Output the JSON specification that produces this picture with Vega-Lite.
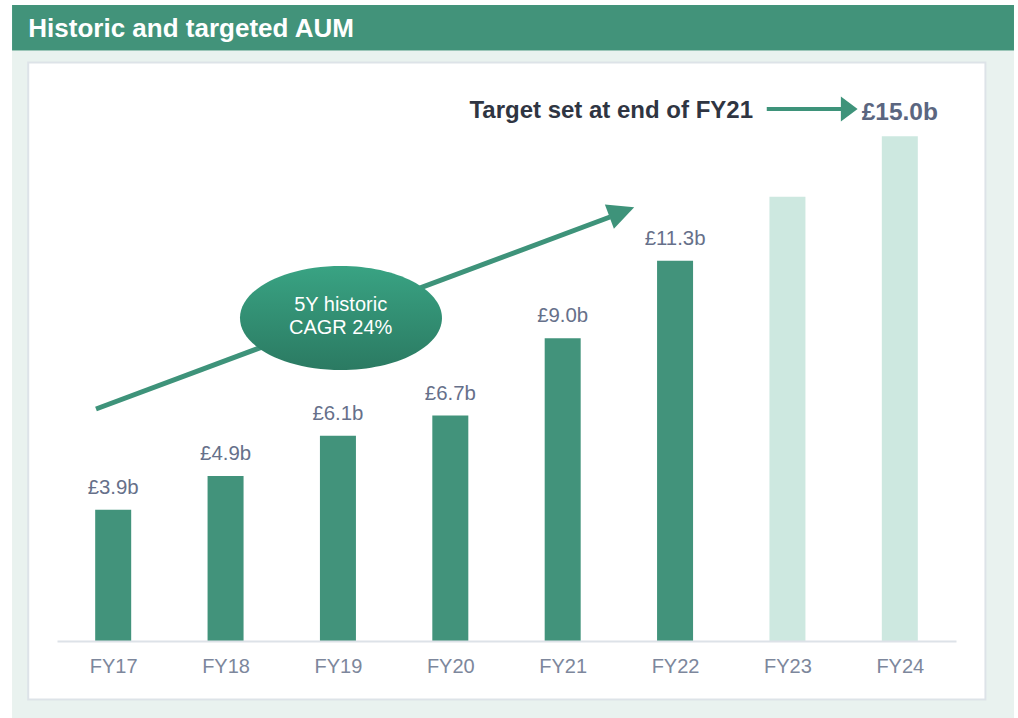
{
  "$schema": "https://vega.github.io/schema/vega-lite/v6.json",
  "width": 899,
  "height": 578,
  "autosize": {"type": "none"},
  "padding": {"left": 57, "top": 63, "right": 62, "bottom": 77},
  "background": "white",
  "config": {"view": {"stroke": null}, "font": "Liberation Sans"},
  "datasets": {
    "aum": [
      {"fy": 17, "value": 3.9, "status": "Actual", "label": "£3.9b"},
      {"fy": 18, "value": 4.9, "status": "Actual", "label": "£4.9b"},
      {"fy": 19, "value": 6.1, "status": "Actual", "label": "£6.1b"},
      {"fy": 20, "value": 6.7, "status": "Actual", "label": "£6.7b"},
      {"fy": 21, "value": 9.0, "status": "Actual", "label": "£9.0b"},
      {"fy": 22, "value": 11.3, "status": "Actual", "label": "£11.3b"},
      {"fy": 23, "value": 13.2, "status": "Target", "label": ""},
      {"fy": 24, "value": 15.0, "status": "Target", "label": "£15.0b"}
    ]
  },
  "layer": [
    {
      "data": {"values": [{"x": 16.1, "x2": 25.016, "y": 17.55, "y2": -2.4}]},
      "mark": {"type": "rect", "fill": "#e9f2ef"},
      "encoding": {
        "x": {"field": "x", "type": "quantitative", "scale": {"domain": [16.5, 24.5], "nice": false, "zero": false, "padding": 0},
              "axis": {"values": [17, 18, 19, 20, 21, 22, 23, 24], "labelExpr": "'FY' + datum.value", "grid": false, "ticks": false, "tickSize": 0,
                       "domainColor": "#dde2e8", "domainWidth": 2, "labelFontSize": 20, "labelColor": "#7d879c", "labelPadding": 31,
                       "labelBaseline": "alphabetic", "labelFont": "Liberation Sans", "title": null, "zindex": 2}},
        "x2": {"field": "x2"},
        "y": {"field": "y", "type": "quantitative", "scale": {"domain": [0, 17.177], "nice": false, "zero": false, "padding": 0}, "axis": null},
        "y2": {"field": "y2"}
      }
    },
    {
      "data": {"values": [{"x": 16.1, "x2": 25.016, "y": 18.9, "y2": 17.55}]},
      "mark": {"type": "rect", "fill": "#42937a"},
      "encoding": {
        "x": {"field": "x", "type": "quantitative"}, "x2": {"field": "x2"},
        "y": {"field": "y", "type": "quantitative"}, "y2": {"field": "y2"}
      }
    },
    {
      "data": {"values": [{"x": 16.244, "x2": 24.762, "y": 17.19, "y2": -1.738}]},
      "mark": {"type": "rect", "fill": "white", "stroke": "#dde3e8", "strokeWidth": 2},
      "encoding": {
        "x": {"field": "x", "type": "quantitative"}, "x2": {"field": "x2"},
        "y": {"field": "y", "type": "quantitative"}, "y2": {"field": "y2"}
      }
    },
    {
      "data": {"values": [{"x": 16.245, "y": 17.94, "text": "Historic and targeted AUM"}]},
      "mark": {"type": "text", "align": "left", "baseline": "alphabetic", "fontSize": 26, "fontWeight": "bold", "color": "white", "font": "Liberation Sans"},
      "encoding": {
        "x": {"field": "x", "type": "quantitative"},
        "y": {"field": "y", "type": "quantitative"},
        "text": {"field": "text"}
      }
    },
    {
      "data": {"name": "aum"},
      "mark": {"type": "bar", "width": 36},
      "encoding": {
        "x": {"field": "fy", "type": "quantitative"},
        "y": {"field": "value", "type": "quantitative"},
        "color": {"field": "status", "type": "nominal", "scale": {"domain": ["Actual", "Target"], "range": ["#42937b", "#cde8e0"]}, "legend": null}
      }
    },
    {
      "data": {"name": "aum"},
      "transform": [{"filter": "datum.status == 'Actual'"}],
      "mark": {"type": "text", "align": "center", "baseline": "alphabetic", "dy": -16, "fontSize": 20.4, "color": "#66708a", "font": "Liberation Sans"},
      "encoding": {
        "x": {"field": "fy", "type": "quantitative"},
        "y": {"field": "value", "type": "quantitative"},
        "text": {"field": "label"}
      }
    },
    {
      "data": {"name": "aum"},
      "transform": [{"filter": "datum.fy == 24"}],
      "mark": {"type": "text", "align": "center", "baseline": "alphabetic", "dy": -16, "fontSize": 24.5, "fontWeight": "bold", "color": "#5b6680", "font": "Liberation Sans"},
      "encoding": {
        "x": {"field": "fy", "type": "quantitative"},
        "y": {"field": "value", "type": "quantitative"},
        "text": {"field": "label"}
      }
    },
    {
      "data": {"values": [{"x": 16.847, "y": 6.894}, {"x": 21.421, "y": 12.6}]},
      "mark": {"type": "line", "color": "#3e937a", "strokeWidth": 5, "strokeCap": "butt"},
      "encoding": {
        "x": {"field": "x", "type": "quantitative"},
        "y": {"field": "y", "type": "quantitative"}
      }
    },
    {
      "data": {"values": [{"x": 21.526, "y": 12.75}]},
      "mark": {"type": "point", "shape": "M1,0 L-1,-0.97 L-1,0.97 Z", "size": 702, "angle": -20.6, "filled": true, "opacity": 1, "color": "#3e937a"},
      "encoding": {
        "x": {"field": "x", "type": "quantitative"},
        "y": {"field": "y", "type": "quantitative"}
      }
    },
    {
      "data": {"values": [{"x": 22.816, "y": 15.81}, {"x": 23.477, "y": 15.81}]},
      "mark": {"type": "line", "color": "#3e937a", "strokeWidth": 4, "strokeCap": "butt"},
      "encoding": {
        "x": {"field": "x", "type": "quantitative"},
        "y": {"field": "y", "type": "quantitative"}
      }
    },
    {
      "data": {"values": [{"x": 23.55, "y": 15.81}]},
      "mark": {"type": "point", "shape": "M1,0 L-1,-1.5 L-1,1.5 Z", "size": 279, "filled": true, "opacity": 1, "color": "#3e937a"},
      "encoding": {
        "x": {"field": "x", "type": "quantitative"},
        "y": {"field": "y", "type": "quantitative"}
      }
    },
    {
      "data": {"values": [{"x": 22.694, "y": 15.53, "text": "Target set at end of FY21"}]},
      "mark": {"type": "text", "align": "right", "baseline": "alphabetic", "fontSize": 24, "fontWeight": "bold", "color": "#2f3542", "font": "Liberation Sans"},
      "encoding": {
        "x": {"field": "x", "type": "quantitative"},
        "y": {"field": "y", "type": "quantitative"},
        "text": {"field": "text"}
      }
    },
    {
      "data": {"values": [{"x": 19.027, "y": 9.6}]},
      "mark": {"type": "point", "shape": "M1,0 C1,0.2844 0.5523,0.515 0,0.515 C-0.5523,0.515 -1,0.2844 -1,0 C-1,-0.2844 -0.5523,-0.515 0,-0.515 C0.5523,-0.515 1,-0.2844 1,0 Z",
               "size": 40804, "filled": true, "opacity": 1, "strokeWidth": 0,
               "fill": {"gradient": "linear", "x1": 0, "y1": 0, "x2": 0, "y2": 1, "stops": [{"offset": 0, "color": "#39a383"}, {"offset": 1, "color": "#2b7a62"}]}},
      "encoding": {
        "x": {"field": "x", "type": "quantitative"},
        "y": {"field": "y", "type": "quantitative"}
      }
    },
    {
      "data": {"values": [{"x": 19.024, "y": 9.815, "text": "5Y historic"}, {"x": 19.024, "y": 9.123, "text": "CAGR 24%"}]},
      "mark": {"type": "text", "align": "center", "baseline": "alphabetic", "fontSize": 20, "color": "white", "font": "Liberation Sans"},
      "encoding": {
        "x": {"field": "x", "type": "quantitative"},
        "y": {"field": "y", "type": "quantitative"},
        "text": {"field": "text"}
      }
    }
  ]
}
